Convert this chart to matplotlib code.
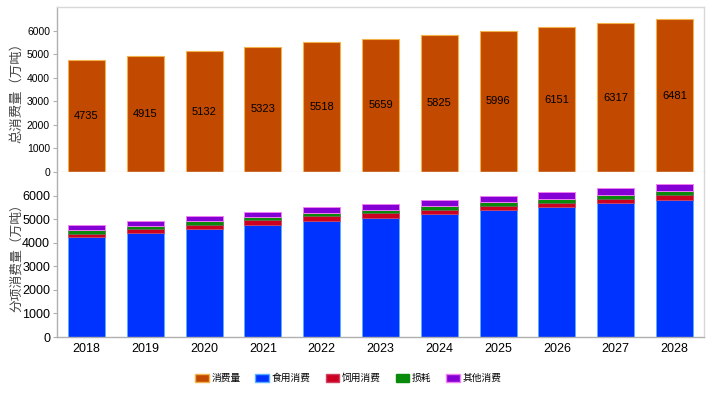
import matplotlib
matplotlib.use("Agg")
import matplotlib.pyplot as plt
from matplotlib.patches import Patch

plt.rcParams['font.family'] = ['Liberation Sans', 'Noto Sans CJK SC', 'DejaVu Sans']

years = ['2018', '2019', '2020', '2021', '2022', '2023', '2024', '2025', '2026', '2027', '2028']
total = [4735, 4915, 5132, 5323, 5518, 5659, 5825, 5996, 6151, 6317, 6481]
food = [4250, 4420, 4600, 4770, 4930, 5060, 5210, 5370, 5510, 5670, 5830]
feed = [140, 150, 170, 190, 190, 180, 180, 180, 190, 190, 190]
loss = [130, 130, 140, 150, 150, 150, 160, 160, 160, 160, 160]
other = [215, 215, 222, 213, 248, 269, 275, 286, 291, 297, 301]
yticks = [0, 1000, 2000, 3000, 4000, 5000, 6000]
legend_labels = ['消费量', '食用消费', '饲用消费', '损耗', '其他消费']

c_total = '#C24A00'
c_food = '#0033FF'
c_feed = '#CC0020'
c_loss = '#0A8A0A'
c_other = '#8400D4'

W, H = 711, 394
fig = plt.figure(figsize=(W / 100, H / 100), dpi=100)
left, right = 57 / W, 704 / W
ax1 = fig.add_axes([left, 1 - 172 / H, right - left, (172 - 7) / H])
ax2 = fig.add_axes([left, 1 - 337 / H, right - left, (337 - 172) / H])

x = list(range(len(years)))
bw = 0.63
gray = '#B0B0B0'

ax1.bar(x, total, width=bw, color=c_total, edgecolor='#F2B24A', linewidth=0.8)
for xi, v in zip(x, total):
    ax1.text(xi, v / 2, str(v), ha='center', va='center', fontsize=8, color='black')

b = [0] * len(years)
ax2.bar(x, food, width=bw, bottom=b, color=c_food, edgecolor='#5AAEFF', linewidth=0.7)
b = [p + q for p, q in zip(b, food)]
ax2.bar(x, feed, width=bw, bottom=b, color=c_feed, edgecolor='#D04060', linewidth=0.5)
b = [p + q for p, q in zip(b, feed)]
ax2.bar(x, loss, width=bw, bottom=b, color=c_loss, edgecolor='#607050', linewidth=0.5)
b = [p + q for p, q in zip(b, loss)]
ax2.bar(x, other, width=bw, bottom=b, color=c_other, edgecolor='#F080F0', linewidth=0.7)

for ax in (ax1, ax2):
    ax.set_xlim(-0.5, len(years) - 0.5)
    ax.set_ylim(0, 7000)
    ax.set_yticks(yticks)
    for s in ax.spines.values():
        s.set_color('#D8D8D8')
        s.set_linewidth(1.0)
    ax.spines['left'].set_color(gray)
    ax.tick_params(axis='y', length=3, color=gray, pad=2)

ax1.set_xticks([])
ax1.spines['bottom'].set_color('#E4E4E4')
ax1.set_yticklabels([str(t) for t in yticks], fontsize=7.5)
ax2.spines['top'].set_visible(False)
ax2.spines['bottom'].set_color(gray)
ax2.set_xticks(x)
ax2.set_xticklabels(years, fontsize=9)
ax2.tick_params(axis='x', length=0, pad=4)
ax2.set_yticklabels([str(t) for t in yticks], fontsize=9)

ax1.set_ylabel('总消费量（万吨）', family=['Noto Sans CJK SC'], fontsize=9.6, color='#444444')
ax2.set_ylabel('分项消费量（万吨）', family=['Noto Sans CJK SC'], fontsize=9.2, color='#444444')
ax1.yaxis.set_label_coords(-0.052, 0.5)
ax2.yaxis.set_label_coords(-0.052, 0.5)

handles = [
    Patch(facecolor=c_total, edgecolor='#F2B24A'),
    Patch(facecolor=c_food, edgecolor='#5AAEFF'),
    Patch(facecolor=c_feed, edgecolor='#D04060'),
    Patch(facecolor=c_loss, edgecolor='#0A8A0A'),
    Patch(facecolor=c_other, edgecolor='#F080F0'),
]
fig.legend(handles, legend_labels, loc='center', bbox_to_anchor=(0.49, 1 - 378 / H),
           ncol=5, frameon=False, prop={'family': 'Noto Sans CJK SC', 'size': 7},
           handlelength=1.4, handleheight=0.9, handletextpad=0.3, columnspacing=1.5)

fig.savefig('out.png', dpi=100)
